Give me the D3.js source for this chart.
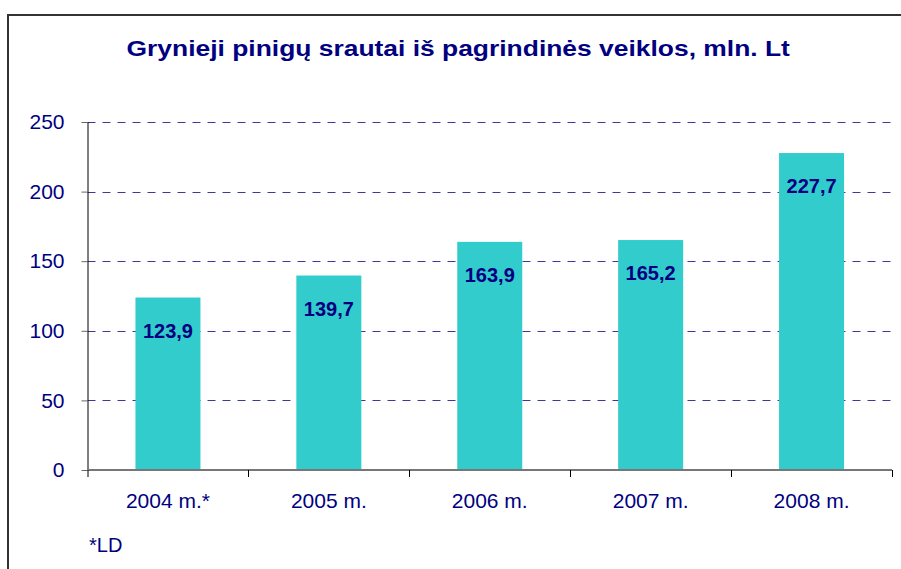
<!DOCTYPE html>
<html>
<head>
<meta charset="utf-8">
<script src="https://cdn.jsdelivr.net/npm/d3@7"></script>
<style>
  body { margin: 0; background: #fff; }
  svg { display: block; font-family: Arial, "Liberation Sans", sans-serif; }
</style>
</head>
<body>
<div id="chart"></div>
<script>
var categories = ["2004 m.*", "2005 m.", "2006 m.", "2007 m.", "2008 m."];
var values = [123.9, 139.7, 163.9, 165.2, 227.7];
var yTicks = [0, 50, 100, 150, 200, 250];
var title = "Grynieji pinigų srautai iš pagrindinės veiklos, mln. Lt";
var footnote = "*LD";

var width = 901, height = 569;
var navy = "#000080";
var svg = d3.select("#chart").append("svg")
  .attr("width", width)
  .attr("height", height);

// chart frame
svg.append("path")
  .attr("d", "M8,569 L8,15 L901,15")
  .attr("fill", "none")
  .attr("stroke", "#333")
  .attr("stroke-width", 2);

// title is horizontally stretched in the original
var titleText = svg.append("text")
  .attr("fill", navy)
  .style("font-size", "22px")
  .style("font-weight", "bold")
  .text(title);
var tw = titleText.node().getComputedTextLength();
titleText.attr("transform", "translate(126.5,56) scale(" + (664 / tw) + ",1)");

var plotL = 87.5, plotR = 892, plotT = 122, plotB = 470;

var x = d3.scaleBand()
  .domain(categories)
  .range([plotL, plotR])
  .paddingInner(0.596)
  .paddingOuter(0.298);

var xCat = d3.scaleBand()
  .domain(categories)
  .range([plotL, plotR]);

var y = d3.scaleLinear()
  .domain([0, 250])
  .range([plotB, plotT]);

// gridlines
svg.append("g").selectAll("line")
  .data(yTicks.filter(function(d){ return d > 0; }))
  .enter().append("line")
    .attr("x1", plotL)
    .attr("x2", plotR)
    .attr("y1", function(d){ return Math.round(y(d)) + 0.5; })
    .attr("y2", function(d){ return Math.round(y(d)) + 0.5; })
    .attr("stroke", "#3a3a9a")
    .attr("stroke-width", 1)
    .attr("stroke-dasharray", "8,7");

// bars
svg.append("g").selectAll("rect")
  .data(values)
  .enter().append("rect")
    .attr("x", function(d, i){ return x(categories[i]); })
    .attr("width", x.bandwidth())
    .attr("y", function(d){ return y(d); })
    .attr("height", function(d){ return plotB - y(d); })
    .attr("fill", "#33cccc");

// value labels
svg.append("g").selectAll("text")
  .data(values)
  .enter().append("text")
    .attr("x", function(d, i){ return x(categories[i]) + x.bandwidth() / 2; })
    .attr("y", function(d){ return y(d) + 40; })
    .attr("text-anchor", "middle")
    .attr("fill", navy)
    .style("font-size", "20px")
    .style("font-weight", "bold")
    .text(function(d){ return d.toFixed(1).replace(".", ","); });

// y axis
var yAxis = svg.append("g")
  .attr("transform", "translate(" + plotL + ",0)")
  .call(d3.axisLeft(y).tickValues(yTicks).tickSize(6).tickPadding(17));
yAxis.select(".domain").attr("stroke", "#000").attr("d", "M0.5," + plotT + "V" + plotB);
yAxis.selectAll(".tick line").attr("stroke", "#666");
yAxis.selectAll(".tick text")
  .attr("fill", navy)
  .style("font-size", "21px")
  .style("font-family", "Arial, 'Liberation Sans', sans-serif");

// x axis
var xAxis = svg.append("g")
  .attr("transform", "translate(0," + plotB + ")")
  .call(d3.axisBottom(xCat).tickSize(0).tickPadding(23));
xAxis.select(".domain").attr("stroke", "#777").attr("stroke-width", 2)
  .attr("d", "M" + plotL + ",0H" + plotR);
xAxis.selectAll(".tick text")
  .attr("fill", navy)
  .style("font-size", "21px")
  .style("font-family", "Arial, 'Liberation Sans', sans-serif");

// category separator ticks
svg.append("g").selectAll("line")
  .data(categories)
  .enter().append("line")
    .attr("x1", function(d){ return Math.round(xCat(d) + xCat.bandwidth()) + 0.5; })
    .attr("x2", function(d){ return Math.round(xCat(d) + xCat.bandwidth()) + 0.5; })
    .attr("y1", plotB)
    .attr("y2", plotB + 7)
    .attr("stroke", "#000");
svg.append("line")
  .attr("x1", plotL + 0.5).attr("x2", plotL + 0.5)
  .attr("y1", plotB).attr("y2", plotB + 7)
  .attr("stroke", "#000");

svg.append("text")
  .attr("x", 89)
  .attr("y", 552)
  .attr("fill", navy)
  .style("font-size", "20px")
  .text(footnote);
</script>
</body>
</html>
